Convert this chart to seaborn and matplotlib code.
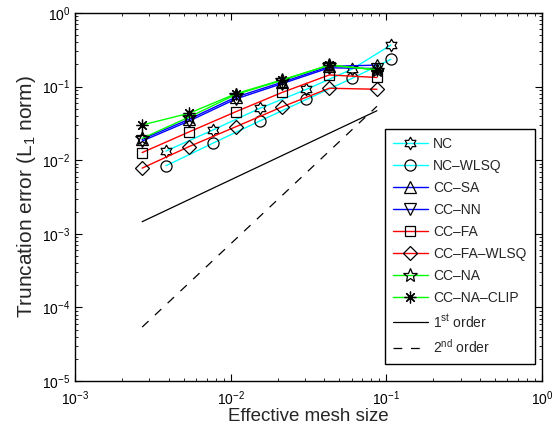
import numpy as np
import pandas as pd
import matplotlib
matplotlib.use("Agg")
import matplotlib.pyplot as plt
from matplotlib.path import Path
from matplotlib.ticker import LogLocator, NullFormatter
import seaborn as sns

# ---- data ----
x_cc = [0.0027, 0.0054, 0.0108, 0.0215, 0.043, 0.087]
x_nc = [0.00384, 0.00768, 0.0154, 0.0307, 0.060, 0.107]

nc = [0.0133, 0.0257, 0.0507, 0.0918, 0.172, 0.367]
nc_wlsq = [0.0084, 0.0170, 0.0341, 0.0670, 0.129, 0.235]
cc_sa = [0.0192, 0.0360, 0.0720, 0.1150, 0.188, 0.196]
cc_nn = [0.0182, 0.0340, 0.0680, 0.1100, 0.180, 0.176]
cc_fa = [0.0127, 0.0242, 0.0456, 0.0836, 0.144, 0.133]
cc_fa_wlsq = [0.0078, 0.0153, 0.0285, 0.0533, 0.095, 0.092]
cc_na = [0.0198, 0.0385, 0.0780, 0.1220, 0.196, 0.168]
cc_na_clip = [0.0301, 0.0434, 0.0800, 0.1240, 0.196, 0.170]

x_ref = [0.0027, 0.087]
first_order = [0.00146, 0.047]
second_order = [0.000054, 0.054]

labels = ["NC", "NC\u2013WLSQ", "CC\u2013SA", "CC\u2013NN", "CC\u2013FA",
          "CC\u2013FA\u2013WLSQ", "CC\u2013NA", "CC\u2013NA\u2013CLIP",
          "1$^{\\mathregular{st}}$ order", "2$^{\\mathregular{nd}}$ order"]

# ---- style ----
sns.set_style("white")
plt.rcParams["font.family"] = ["Liberation Sans", "DejaVu Sans"]
plt.rcParams["mathtext.fontset"] = "custom"
plt.rcParams["mathtext.rm"] = "Liberation Sans"
plt.rcParams["mathtext.it"] = "Liberation Sans:italic"
plt.rcParams.update({
    "xtick.bottom": True, "xtick.top": True, "ytick.left": True, "ytick.right": True,
    "xtick.direction": "in", "ytick.direction": "in",
    "xtick.major.size": 5, "ytick.major.size": 5,
    "xtick.minor.size": 2.5, "ytick.minor.size": 2.5,
    "xtick.minor.width": 0.6, "ytick.minor.width": 0.6,
    "xtick.color": "black", "ytick.color": "black",
})

# hexagram marker (six-pointed star)
ang = np.pi / 2 + np.arange(12) * np.pi / 6
rad = np.where(np.arange(12) % 2 == 0, 1.0, 1 / np.sqrt(3))
verts = np.column_stack([rad * np.cos(ang), rad * np.sin(ang)])
verts = np.vstack([verts, verts[:1]])
hexagram = Path(verts, [Path.MOVETO] + [Path.LINETO] * 11 + [Path.CLOSEPOLY])

fig = plt.figure(figsize=(5.53, 4.29), dpi=100)
ax = fig.add_axes([75 / 553, 1 - 381 / 429, 467 / 553, 368 / 429])

series = [
    (x_nc, nc, "#00ffff", hexagram, 9.0),
    (x_nc, nc_wlsq, "#00ffff", "o", 8.0),
    (x_cc, cc_sa, "#0000ff", "^", 8.0),
    (x_cc, cc_nn, "#0000ff", "v", 8.0),
    (x_cc, cc_fa, "#ff0000", "s", 7.5),
    (x_cc, cc_fa_wlsq, "#ff0000", "D", 7.0),
    (x_cc, cc_na, "#00ff00", "*", 10.5),
    (x_cc, cc_na_clip, "#00ff00", (8, 2, 0), 8.5),
]
for (xs, ys, col, mk, ms), lab in zip(series, labels[:8]):
    sns.lineplot(x=xs, y=ys, ax=ax, color=col, marker=mk, markersize=ms,
                 markerfacecolor="none", markeredgecolor="black",
                 markeredgewidth=0.9, linewidth=1.0, label=lab,
                 errorbar=None, estimator=None, sort=False)

sns.lineplot(x=x_ref, y=first_order, ax=ax, color="black", linewidth=0.9,
             label=labels[8], errorbar=None, estimator=None)
sns.lineplot(x=x_ref, y=second_order, ax=ax, color="black", linewidth=0.9,
             linestyle=(0, (7, 7)), label=labels[9], errorbar=None, estimator=None)

ax.set_xscale("log")
ax.set_yscale("log")
ax.set_xlim(1e-3, 1)
ax.set_ylim(1e-5, 1)
ax.set_xticks([1e-3, 1e-2, 1e-1, 1])
ax.set_yticks([1e-5, 1e-4, 1e-3, 1e-2, 1e-1, 1])
for axis in (ax.xaxis, ax.yaxis):
    axis.set_minor_locator(LogLocator(base=10, subs=np.arange(2, 10), numticks=100))
    axis.set_minor_formatter(NullFormatter())
ax.tick_params(which="both", direction="in", top=True, right=True,
               bottom=True, left=True, labelsize=10, colors="black")
ax.tick_params(axis="x", which="major", pad=6)
for s in ax.spines.values():
    s.set_color("black")
    s.set_linewidth(1.0)

ax.set_xlabel("Effective mesh size", fontsize=13.5, labelpad=0)
ax.set_ylabel("Truncation error (L$_{\\mathregular{1}}$ norm)", fontsize=15, labelpad=3)

leg = ax.legend(loc="upper right", bbox_to_anchor=(0.985, 0.685), fontsize=10,
                handlelength=2.5, labelspacing=0.57, handletextpad=0.4,
                borderpad=0.6, borderaxespad=0, fancybox=False,
                edgecolor="black", framealpha=1)
leg.get_frame().set_linewidth(1.0)

fig.savefig("out.png", dpi=100)
